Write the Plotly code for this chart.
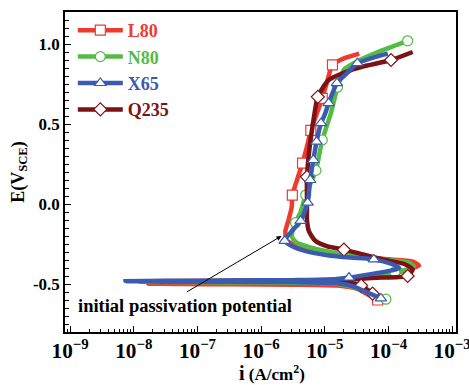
import plotly.graph_objects as go

# polarization curves: log10(i / A cm^-2) and E (V vs SCE)
l80_logi = [-4.17, -4.35, -4.49, -4.8, -5.5, -6.5, -7.2, -7.77, -7.2, -6.5, -5.5, -4.9,
            -4.5, -4.0, -3.65, -3.52, -3.62, -4.0, -4.6, -5.1, -5.45, -5.6, -5.62, -5.57,
            -5.52, -5.51, -5.42, -5.35, -5.28, -5.22, -5.13, -5.04, -4.96, -4.88, -4.7, -4.46]
l80_e = [-0.60, -0.56, -0.53, -0.51, -0.504, -0.502, -0.50, -0.498, -0.496, -0.494, -0.492,
         -0.488, -0.47, -0.44, -0.405, -0.385, -0.36, -0.345, -0.325, -0.295, -0.26, -0.225,
         -0.17, -0.10, -0.02, 0.056, 0.17, 0.256, 0.36, 0.46, 0.56, 0.66, 0.77, 0.87, 0.91, 0.94]
l80_marks = [0, 25, 27, 29, 31, 33]

n80_logi = [-4.04, -4.3, -4.55, -4.85, -5.5, -6.5, -7.4, -7.9, -7.4, -6.5, -5.5, -4.9,
            -4.4, -3.9, -3.68, -3.60, -3.70, -4.1, -4.7, -5.2, -5.45, -5.52, -5.46, -5.38,
            -5.30, -5.14, -5.04, -4.91, -4.80, -4.70, -4.5, -4.1, -3.70]
n80_e = [-0.595, -0.555, -0.52, -0.497, -0.492, -0.49, -0.488, -0.486, -0.484, -0.482, -0.48,
         -0.476, -0.455, -0.425, -0.405, -0.39, -0.365, -0.345, -0.315, -0.275, -0.24, -0.2,
         -0.117, -0.05, 0.056, 0.21, 0.40, 0.56, 0.73, 0.84, 0.89, 0.96, 1.02]
n80_marks = [0, 13, 22, 24, 25, 26, 28, 32]

x65_logi = [-4.12, -4.35, -4.55, -4.8, -5.5, -6.5, -7.5, -8.13, -7.5, -6.5, -5.5, -4.9,
            -4.62, -4.3, -3.95, -3.83, -3.95, -4.23, -4.6, -4.96, -5.30, -5.48, -5.63, -5.54,
            -5.38, -5.27, -5.23, -5.18, -5.13, -5.06, -5.00, -4.94, -4.81, -4.62, -4.49, -4.2, -4.01]
x65_e = [-0.59, -0.55, -0.515, -0.495, -0.488, -0.486, -0.484, -0.482, -0.480, -0.478, -0.476,
         -0.472, -0.46, -0.44, -0.415, -0.40, -0.375, -0.346, -0.335, -0.32, -0.295, -0.27,
         -0.23, -0.18, -0.106, 0.008, 0.15, 0.275, 0.39, 0.505, 0.56, 0.63, 0.755, 0.83, 0.88,
         0.92, 0.94]
x65_marks = [0, 12, 17, 22, 24, 25, 26, 27, 28, 29, 31, 32, 34]

q235_logi = [-4.25, -4.43, -4.7, -5.5, -6.5, -7.6, -6.5, -5.5, -4.6, -4.1, -3.70, -3.62,
             -3.75, -4.1, -4.45, -4.70, -4.96, -5.15, -5.25, -5.28, -5.28, -5.28, -5.24,
             -5.18, -5.11, -4.94, -4.6, -4.39, -3.96, -3.62]
q235_e = [-0.56, -0.51, -0.49, -0.486, -0.484, -0.482, -0.480, -0.478, -0.47, -0.46, -0.45,
          -0.41, -0.375, -0.345, -0.31, -0.285, -0.265, -0.23, -0.17, -0.10, 0.0, 0.17, 0.35,
          0.52, 0.67, 0.775, 0.835, 0.86, 0.90, 0.95]
q235_marks = [0, 1, 10, 15, 21, 24, 28]

# y axis ticks
y_tickvals = [-0.5, 0.0, 0.5, 1.0]
y_ticktext = ['-0.5', '0.0', '0.5', '1.0']

series = {
    'L80': (l80_logi, l80_e, l80_marks, '#ef3a2d', 'square'),
    'N80': (n80_logi, n80_e, n80_marks, '#55bb44', 'circle'),
    'X65': (x65_logi, x65_e, x65_marks, '#3a5bb0', 'triangle-up'),
    'Q235': (q235_logi, q235_e, q235_marks, '#7d1215', 'diamond'),
}
draw_order = ['L80', 'N80', 'Q235', 'X65']

FONT = 'Liberation Serif'

fig = go.Figure()

# legend entries (line + open marker)
for name, (_, _, _, color, symbol) in series.items():
    fig.add_trace(go.Scatter(
        x=[None], y=[None], mode='lines+markers',
        name=f'<span style="color:{color}"><b>{name}</b></span>',
        line=dict(color=color, width=4.5),
        marker=dict(symbol=symbol, size=10, color='white', line=dict(color=color, width=1.2)),
    ))

for name in draw_order:
    logi, e, marks, color, symbol = series[name]
    i = [10 ** v for v in logi]
    fig.add_trace(go.Scatter(
        x=i, y=e, mode='lines', showlegend=False,
        line=dict(color=color, width=4.5, shape='spline', smoothing=0.6),
    ))
    fig.add_trace(go.Scatter(
        x=[i[k] for k in marks], y=[e[k] for k in marks], mode='markers', showlegend=False,
        marker=dict(symbol=symbol, size=10, color='white', line=dict(color=color, width=1.2)),
    ))

fig.add_annotation(
    x=-5.68, y=-0.2, ax=-7.19, ay=-0.555, xref='x', yref='y', axref='x', ayref='y',
    text='', showarrow=True, arrowhead=2, arrowsize=1, arrowwidth=1, arrowcolor='black',
)
fig.add_annotation(
    x=0.028, y=-0.64, xref='paper', yref='y', xanchor='left', yanchor='middle',
    text='<b>initial passivation potential</b>', showarrow=False,
    font=dict(family=FONT, size=18.5, color='black'),
)
# x axis title placed by hand
fig.add_annotation(
    x=0.53, y=-0.128, xref='paper', yref='paper', xanchor='center', yanchor='middle',
    text='<b><span style="font-size:20px">i</span> (A/cm<sup>2</sup>)</b>', showarrow=False,
    font=dict(family=FONT, size=17, color='black'),
)

fig.update_xaxes(
    type='log', range=[-9.08, -2.94], dtick=1, exponentformat='power',
    ticks='inside', ticklen=6, tickwidth=1, tickcolor='black',
    minor=dict(ticks='inside', ticklen=3, dtick='D1', tickcolor='black'),
    showline=True, linecolor='black', linewidth=1.5, mirror=True,
    showgrid=False, zeroline=False, ticklabeloverflow='allow', automargin=False,
    tickfont=dict(family=FONT, size=17, color='black', weight='bold'),
)
fig.update_yaxes(
    range=[-0.8, 1.2], tickvals=y_tickvals, ticktext=y_ticktext,
    ticks='inside', ticklen=6, tickwidth=1, tickcolor='black',
    minor=dict(ticks='inside', ticklen=4, dtick=0.05, tickcolor='black'),
    showline=True, linecolor='black', linewidth=1.5, mirror=True,
    showgrid=False, zeroline=False, automargin=False,
    tickfont=dict(family=FONT, size=17, color='black', weight='bold'),
    title=dict(text='<b>E(V<sub>SCE</sub>)</b>', standoff=4,
               font=dict(family=FONT, size=18, color='black')),
)

fig.update_layout(
    width=469, height=385,
    margin=dict(l=65, r=13, t=12, b=53),
    paper_bgcolor='white', plot_bgcolor='white',
    legend=dict(x=0.02, y=1.0, xanchor='left', yanchor='top',
                bgcolor='rgba(0,0,0,0)', font=dict(family=FONT, size=18),
                tracegroupgap=0, itemwidth=45),
)

# drop the default 8px body margin so the figure fills the window
fig.write_html("out.html", config={'displayModeBar': False},
               post_script="document.body.style.margin='0';")
